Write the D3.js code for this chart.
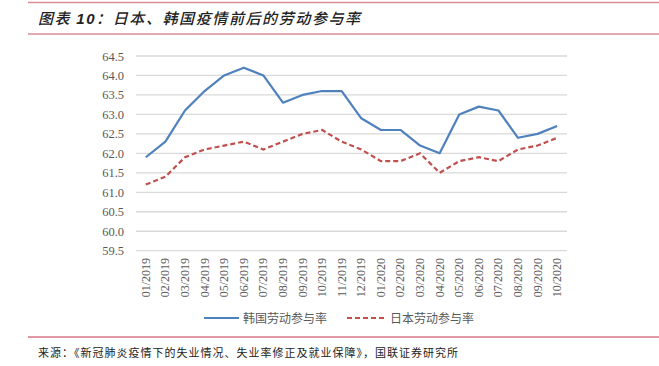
<!DOCTYPE html>
<html>
<head>
<meta charset="utf-8">
<script src="https://cdn.jsdelivr.net/npm/d3@7"></script>
<style>
  body { margin: 0; background: #fff; }
  svg { display: block; }
</style>
</head>
<body>
<script>
  var months = ['01/2019', '02/2019', '03/2019', '04/2019', '05/2019', '06/2019', '07/2019',
    '08/2019', '09/2019', '10/2019', '11/2019', '12/2019', '01/2020', '02/2020', '03/2020',
    '04/2020', '05/2020', '06/2020', '07/2020', '08/2020', '09/2020', '10/2020'];
  var korea = [61.9, 62.3, 63.1, 63.6, 64.0, 64.2, 64.0, 63.3, 63.5, 63.6, 63.6, 62.9,
    62.6, 62.6, 62.2, 62.0, 63.0, 63.2, 63.1, 62.4, 62.5, 62.7];
  var japan = [61.2, 61.4, 61.9, 62.1, 62.2, 62.3, 62.1, 62.3, 62.5, 62.6, 62.3, 62.1,
    61.8, 61.8, 62.0, 61.5, 61.8, 61.9, 61.8, 62.1, 62.2, 62.4];
  var yTicks = [59.5, 60.0, 60.5, 61.0, 61.5, 62.0, 62.5, 63.0, 63.5, 64.0, 64.5];
  var seriesNames = ['韩国劳动参与率', '日本劳动参与率'];

  var width = 659, height = 366;
  var red = '#c0504d';
  var serif = '"Liberation Serif", "Times New Roman", serif';
  var cjk = '"Noto Sans CJK SC", sans-serif';

  var svg = d3.select('body').append('svg')
    .attr('width', width).attr('height', height);

  // title band
  svg.append('line').attr('x1', 28).attr('x2', width).attr('y1', 2.5).attr('y2', 2.5)
    .attr('stroke', '#d98c96').attr('stroke-width', 1.5);
  svg.append('line').attr('x1', 28).attr('x2', width).attr('y1', 34).attr('y2', 34)
    .attr('stroke', '#d98c96').attr('stroke-width', 1.5);
  var title = svg.append('text').attr('x', 38).attr('y', 24)
    .attr('font-family', cjk).attr('font-size', 15).attr('font-style', 'italic')
    .attr('font-weight', 500).attr('fill', '#222').attr('letter-spacing', 1.6);
  title.append('tspan').text('图表 ');
  title.append('tspan').attr('font-weight', 'bold').attr('font-family', '"Liberation Sans", Arial, sans-serif').text('10');
  title.append('tspan').text('：日本、韩国疫情前后的劳动参与率');

  var x = d3.scaleBand().domain(months).range([136, 567]);
  var y = d3.scaleLinear().domain([59.5, 64.5]).range([250.7, 56]);

  // grid
  svg.append('g').selectAll('line').data(yTicks).enter().append('line')
    .attr('x1', 136).attr('x2', 567)
    .attr('y1', function(d) { return y(d); }).attr('y2', function(d) { return y(d); })
    .attr('stroke', '#d9d9d9').attr('stroke-width', 1.3);

  // y labels
  svg.append('g').selectAll('text').data(yTicks).enter().append('text')
    .attr('x', 124).attr('y', function(d) { return y(d) + 4.5; })
    .attr('text-anchor', 'end').attr('font-family', serif).attr('font-size', 12.5)
    .attr('fill', '#595959')
    .text(function(d) { return d3.format('.1f')(d); });

  // x labels
  svg.append('g').selectAll('text').data(months).enter().append('text')
    .attr('transform', function(d) {
      return 'translate(' + (x(d) + x.bandwidth() / 2 + 4) + ',258) rotate(-90)';
    })
    .attr('text-anchor', 'end').attr('font-family', serif).attr('font-size', 12)
    .attr('fill', '#595959')
    .text(function(d) { return d; });

  var line = d3.line()
    .x(function(d, i) { return x(months[i]) + x.bandwidth() / 2; })
    .y(function(d) { return y(d); });

  svg.append('path').datum(korea).attr('d', line)
    .attr('fill', 'none').attr('stroke', '#4f81bd').attr('stroke-width', 2.2)
    .attr('stroke-linejoin', 'round');
  svg.append('path').datum(japan).attr('d', line)
    .attr('fill', 'none').attr('stroke', red).attr('stroke-width', 2.2)
    .attr('stroke-dasharray', '5,3');

  // legend
  var legend = [
    { name: seriesNames[0], color: '#4f81bd', dash: null, x1: 204, x2: 239, tx: 243 },
    { name: seriesNames[1], color: red, dash: '5,3', x1: 347, x2: 387, tx: 390 }
  ];
  legend.forEach(function(l) {
    svg.append('line').attr('x1', l.x1).attr('x2', l.x2).attr('y1', 318).attr('y2', 318)
      .attr('stroke', l.color).attr('stroke-width', 2.2).attr('stroke-dasharray', l.dash);
    svg.append('text').attr('x', l.tx).attr('y', 322.5)
      .attr('font-family', cjk).attr('font-size', 12).attr('fill', '#595959')
      .text(l.name);
  });

  // source
  svg.append('line').attr('x1', 28).attr('x2', width).attr('y1', 337).attr('y2', 337)
    .attr('stroke', '#c0304a').attr('stroke-width', 1);
  svg.append('text').attr('x', 38).attr('y', 357)
    .attr('font-family', cjk).attr('font-size', 11).attr('fill', '#222')
    .attr('letter-spacing', 1)
    .text('来源：《新冠肺炎疫情下的失业情况、失业率修正及就业保障》，国联证券研究所');
</script>
</body>
</html>
